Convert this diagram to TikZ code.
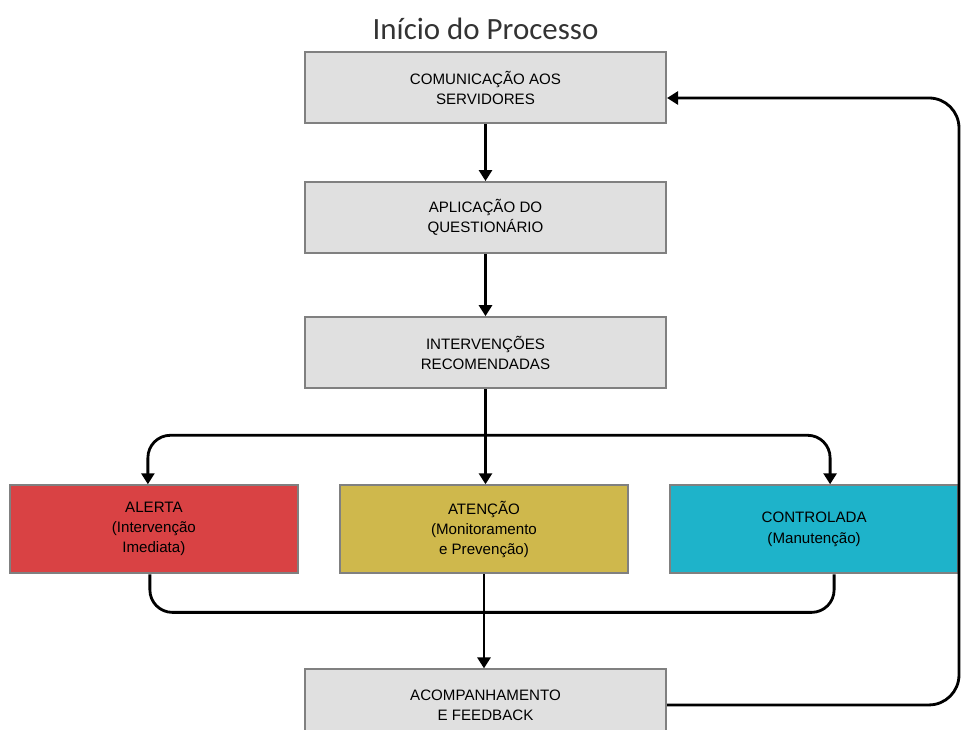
\documentclass[tikz,border=0pt]{standalone}
\usepackage{fontspec}
\setmainfont{Liberation Sans}
\newfontfamily\titulofont{Carlito}
\usepackage{xcolor}
\definecolor{cinza}{RGB}{224,224,224}
\definecolor{borda}{RGB}{128,128,128}
\definecolor{vermelho}{RGB}{217,66,68}
\definecolor{amarelo}{RGB}{207,184,76}
\definecolor{ciano}{RGB}{30,179,202}
\usepackage{tikz}
\usetikzlibrary{arrows.meta,positioning}

\begin{document}
\begin{tikzpicture}[
    node distance=1.14cm and 0.8cm,
    caixa/.style={draw=borda, line width=1.2pt, fill=cinza, minimum width=7.22cm, minimum height=1.42cm, align=center, font=\fontsize{8.6}{11.4}\selectfont},
    nivel/.style={caixa, minimum width=5.76cm, minimum height=1.76cm},
    titulo/.style={font=\titulofont\fontsize{17.6}{20}\selectfont, text=black!80},
    linha/.style={line width=1.6pt, black, rounded corners=0.45cm},
    arr/.style={linha, -{Triangle[length=2.2mm, width=2.6mm]}}
]
\useasboundingbox (-9.71,1.75) rectangle (9.53,-12.85);

\node[caixa] (comunic) at (0,0) {COMUNICAÇÃO AOS\\SERVIDORES};
\node[titulo] (titulo) at (0,1.17) {Início do Processo};
\node[caixa, below=of comunic] (questionario) {APLICAÇÃO DO\\QUESTIONÁRIO};
\node[caixa, below=1.24cm of questionario] (interv) {INTERVENÇÕES\\RECOMENDADAS};
\node[nivel, fill=amarelo, below=1.9cm of interv, xshift=-0.03cm] (atencao) {ATENÇÃO\\(Monitoramento\\e Prevenção)};
\node[nivel, fill=vermelho, left=of atencao] (alerta) {ALERTA\\(Intervenção\\Imediata)};
\node[nivel, fill=ciano, right=of atencao] (controlada) {CONTROLADA\\(Manutenção)};
\node[caixa, below=1.88cm of atencao, xshift=0.03cm] (acomp) {ACOMPANHAMENTO\\E FEEDBACK};

\coordinate[below=0.92cm of interv] (divisao);
\coordinate[below=0.76cm of atencao] (juncao);
\coordinate (retorno) at (9.47,-0.21);

\draw[arr] (comunic) -- (questionario);
\draw[arr] (questionario) -- (interv);
\draw[arr] (interv) -- (interv |- atencao.north);
\draw[arr] (divisao) -| ([xshift=-0.12cm]alerta.north);
\draw[arr] (divisao) -| ([xshift=0.32cm]controlada.north);

\draw[linha] ([xshift=-0.08cm]alerta.south) |- (juncao);
\draw[linha] ([xshift=0.4cm]controlada.south) |- (juncao);
\draw[arr] (atencao) -- (acomp.north -| atencao);

% retorno do feedback
\draw[arr, rounded corners=0.6cm] (acomp.east) -| (retorno) -- (retorno -| comunic.east);
\end{tikzpicture}
\end{document}
